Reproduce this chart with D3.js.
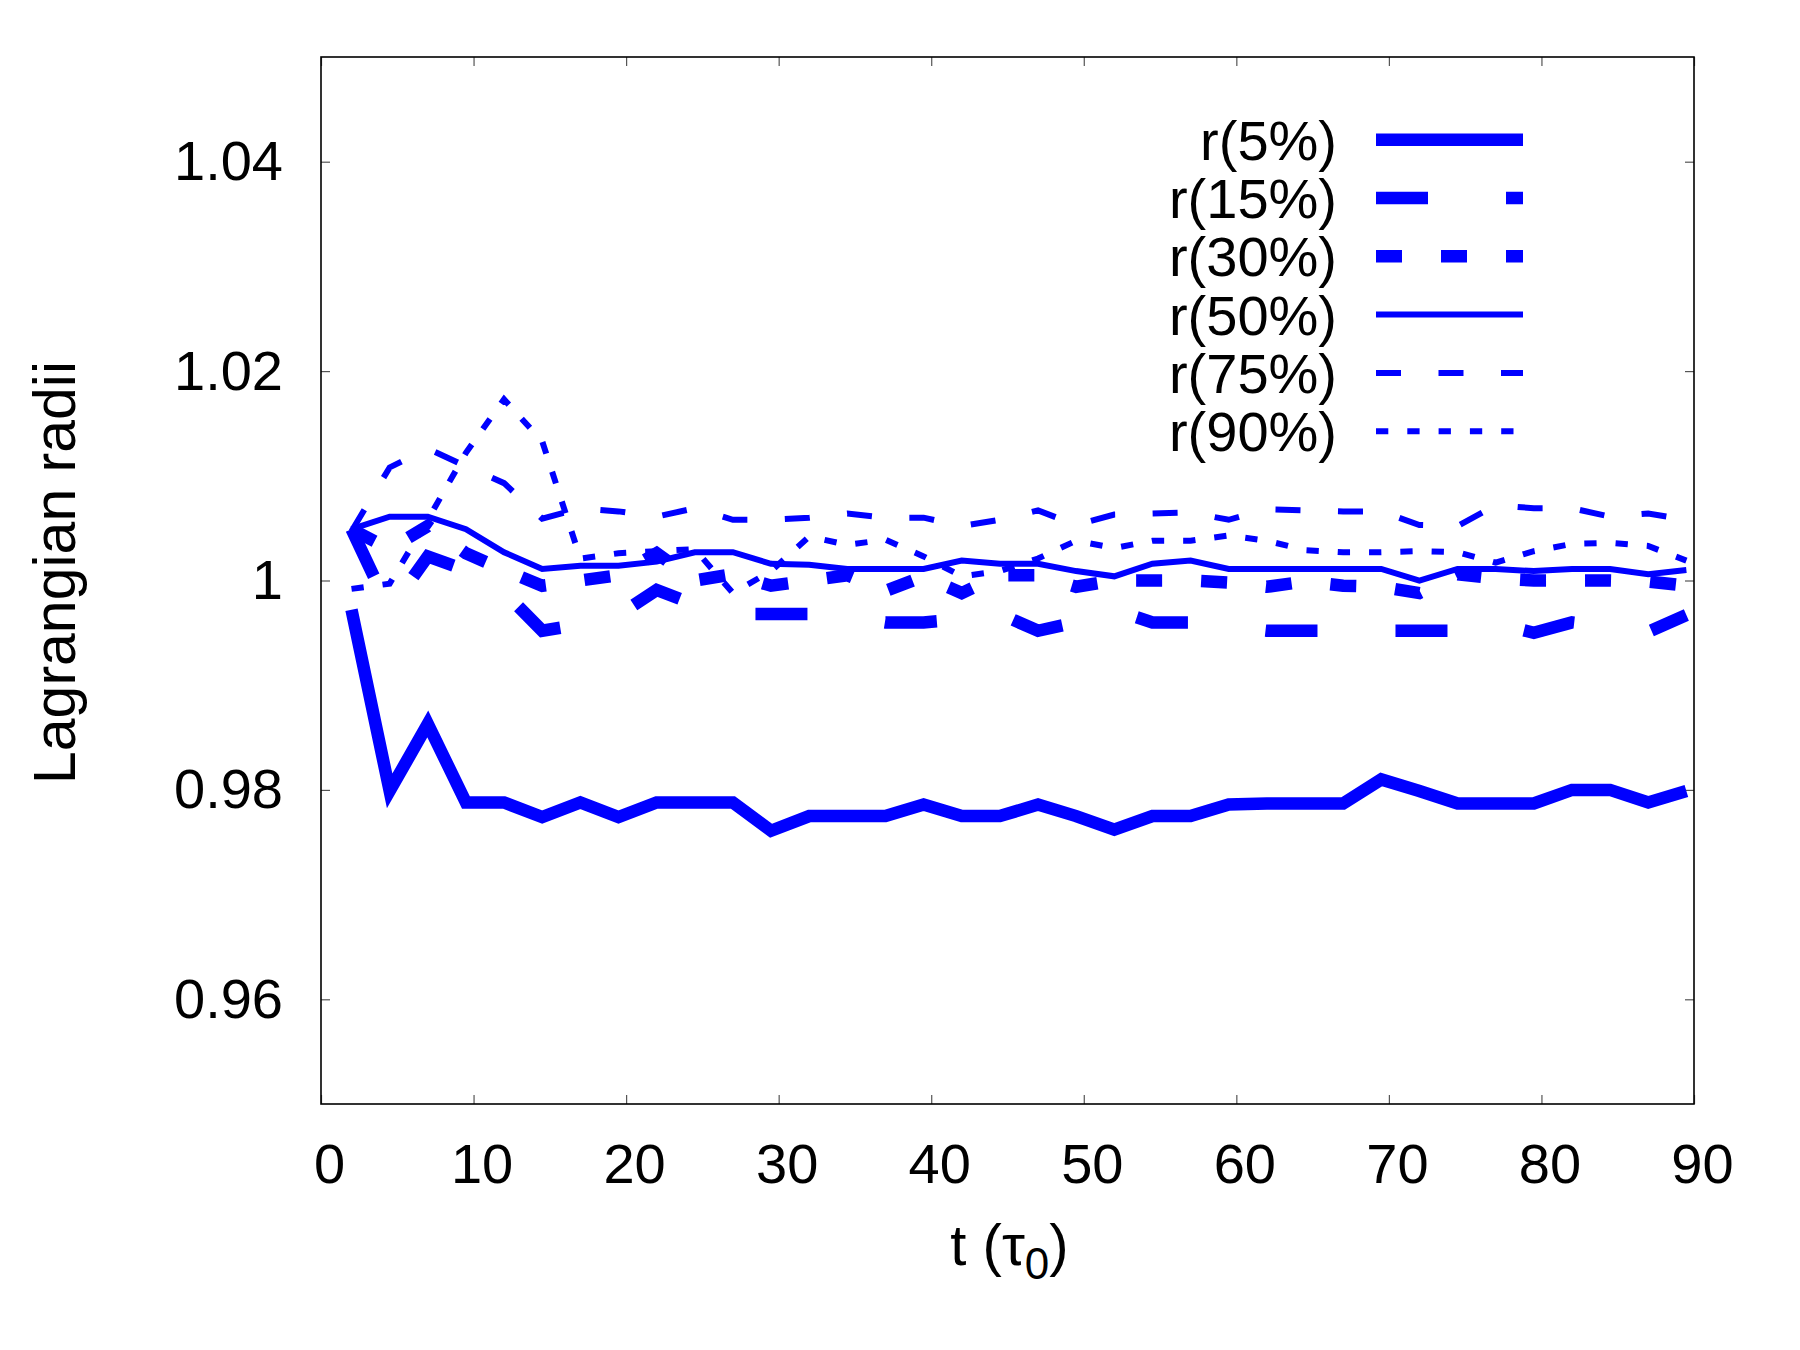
<!DOCTYPE html>
<html>
<head>
<meta charset="utf-8">
<script src="https://cdn.jsdelivr.net/npm/d3@7"></script>
<style>
  body { margin: 0; background: #fff; }
  svg text { font-family: "Liberation Sans", Arial, Helvetica, sans-serif; }
</style>
</head>
<body>
<svg id="chart" width="1800" height="1350"></svg>
<script>
// ---------------- data ----------------
const times = [2, 4.5, 7, 9.5, 12, 14.5, 17, 19.5, 22, 24.5, 27, 29.5, 32, 34.5, 37, 39.5, 42, 44.5,
               47, 49.5, 52, 54.5, 57, 59.5, 62, 64.5, 67, 69.5, 72, 74.5, 77, 79.5, 82, 84.5, 87, 89.5];

const seriesNames = ["r(5%)", "r(15%)", "r(30%)", "r(50%)", "r(75%)", "r(90%)"];

const r5 = [0.9972, 0.9799, 0.9863, 0.9788, 0.9788, 0.9774, 0.9788, 0.9774, 0.9788, 0.9788, 0.9788, 0.9761,
            0.9775, 0.9775, 0.9775, 0.9786, 0.9775, 0.9775, 0.9786, 0.9775, 0.9762, 0.9775, 0.9775, 0.9786,
            0.9787, 0.9787, 0.9787, 0.9810, 0.9799, 0.9787, 0.9787, 0.9787, 0.9800, 0.9800, 0.9788, 0.9799];

const r15 = [1.0049, 0.9972, 1.0023, 1.0010, 0.9989, 0.9952, 0.9958, 0.9967, 0.9991, 0.9977, 0.9968, 0.9968,
             0.9968, 0.9966, 0.9960, 0.9960, 0.9963, 0.9968, 0.9952, 0.9960, 0.9972, 0.9960, 0.9960, 0.9956,
             0.9952, 0.9952, 0.9952, 0.9952, 0.9952, 0.9952, 0.9959, 0.9950, 0.9960, 0.9956, 0.9951, 0.9967];

const r30 = [1.0049, 1.0030, 1.0052, 1.0026, 1.0010, 0.9995, 1.0000, 1.0005, 1.0026, 1.0000, 1.0006, 0.9995,
             1.0000, 1.0005, 0.9990, 1.0004, 0.9988, 1.0005, 1.0005, 0.9994, 1.0000, 1.0000, 1.0000, 0.9998,
             0.9994, 0.9999, 0.9995, 0.9994, 0.9988, 1.0006, 1.0002, 1.0000, 1.0000, 1.0000, 0.9999, 0.9995];

const r50 = [1.0049, 1.0061, 1.0061, 1.0049, 1.0027, 1.0011, 1.0014, 1.0014, 1.0018, 1.0027, 1.0027, 1.0016,
             1.0015, 1.0011, 1.0011, 1.0011, 1.0019, 1.0016, 1.0016, 1.0009, 1.0004, 1.0016, 1.0019, 1.0011,
             1.0011, 1.0011, 1.0011, 1.0011, 1.0000, 1.0011, 1.0011, 1.0009, 1.0011, 1.0011, 1.0006, 1.0010];

const r75 = [1.0047, 1.0108, 1.0126, 1.0109, 1.0093, 1.0059, 1.0069, 1.0066, 1.0061, 1.0069, 1.0058, 1.0058,
             1.0060, 1.0064, 1.0060, 1.0060, 1.0052, 1.0058, 1.0067, 1.0053, 1.0063, 1.0064, 1.0065, 1.0058,
             1.0068, 1.0067, 1.0066, 1.0066, 1.0053, 1.0052, 1.0072, 1.0069, 1.0069, 1.0061, 1.0064, 1.0058];

const r90 = [0.9992, 0.9997, 1.0058, 1.0122, 1.0173, 1.0133, 1.0021, 1.0026, 1.0028, 1.0030, 0.9988, 1.0009,
             1.0042, 1.0034, 1.0039, 1.0023, 1.0004, 1.0009, 1.0021, 1.0038, 1.0031, 1.0038, 1.0038, 1.0043,
             1.0038, 1.0029, 1.0027, 1.0027, 1.0028, 1.0027, 1.0017, 1.0028, 1.0035, 1.0036, 1.0033, 1.0019];

const xTickValues = [0, 10, 20, 30, 40, 50, 60, 70, 80, 90];
const xTickLabels = ["0", "10", "20", "30", "40", "50", "60", "70", "80", "90"];
const yTickValues = [0.96, 0.98, 1.00, 1.02, 1.04];
const yTickLabels = ["0.96", "0.98", "1", "1.02", "1.04"];

const xTitle = "t (";
const xTitleSymbol = "τ";
const xTitleSub = "0";
const yTitle = "Lagrangian radii";

// ---------------- layout / style ----------------
const W = 1800, H = 1350;
const plot = { left: 321, right: 1694, top: 57, bottom: 1104 };
const blue = "#0000ff";
const fontSize = 56;
const tickLen = 9;

const styles = [
  { width: 12.5, dash: null },
  { width: 12.5, dash: "52,78" },
  { width: 12.5, dash: "26,39" },
  { width: 6, dash: null },
  { width: 6, dash: "25,37.5" },
  { width: 6, dash: "12.3,19" }
];
const seriesValues = [r5, r15, r30, r50, r75, r90];

const x = d3.scaleLinear().domain([0, 90]).range([plot.left, plot.right]);
const y = d3.scaleLinear().domain([0.95, 1.05]).range([plot.bottom, plot.top]);

const svg = d3.select("#chart");
svg.append("rect").attr("width", W).attr("height", H).attr("fill", "#fff");

// ---------------- axes ----------------
function styleAxis(g) {
  g.attr("font-family", null).attr("font-size", null);
  g.select(".domain").remove();
  g.selectAll(".tick line").attr("stroke", "#555").attr("stroke-width", 1.2);
  g.selectAll(".tick text").attr("font-size", fontSize).attr("fill", "#000");
}

svg.append("g")
  .attr("transform", `translate(0,${plot.bottom})`)
  .call(d3.axisBottom(x).tickValues(xTickValues)
        .tickFormat((d, i) => xTickLabels[i]).tickSizeInner(-tickLen).tickSizeOuter(0).tickPadding(39))
  .call(styleAxis)
  .call(g => g.selectAll(".tick text").attr("dx", 8));

svg.append("g")
  .attr("transform", `translate(0,${plot.top})`)
  .call(d3.axisTop(x).tickValues(xTickValues).tickFormat("").tickSizeInner(-tickLen).tickSizeOuter(0))
  .call(styleAxis);

svg.append("g")
  .attr("transform", `translate(${plot.left},0)`)
  .call(d3.axisLeft(y).tickValues(yTickValues)
        .tickFormat((d, i) => yTickLabels[i]).tickSizeInner(-tickLen).tickSizeOuter(0).tickPadding(38))
  .call(styleAxis);

svg.append("g")
  .attr("transform", `translate(${plot.right},0)`)
  .call(d3.axisRight(y).tickValues(yTickValues).tickFormat("").tickSizeInner(-tickLen).tickSizeOuter(0))
  .call(styleAxis);

// ---------------- series ----------------
const line = d3.line()
  .x((d, i) => x(times[i]))
  .y(d => y(d));

const gLines = svg.append("g");
seriesValues.forEach((vals, s) => {
  const p = gLines.append("path")
    .datum(vals)
    .attr("d", line)
    .attr("fill", "none")
    .attr("stroke", blue)
    .attr("stroke-width", styles[s].width)
    .attr("stroke-linejoin", "miter")
    .attr("stroke-miterlimit", 10)
    .attr("stroke-linecap", "butt");
  if (styles[s].dash) p.attr("stroke-dasharray", styles[s].dash);
});

// ---------------- border ----------------
svg.append("rect")
  .attr("x", plot.left).attr("y", plot.top)
  .attr("width", plot.right - plot.left).attr("height", plot.bottom - plot.top)
  .attr("fill", "none").attr("stroke", "#000").attr("stroke-width", 1.6);

// ---------------- legend ----------------
const legendTextX = 1337, legendLineX1 = 1376, legendLineX2 = 1523;
const legendTop = 139.7, legendStep = 58.3;
const gLeg = svg.append("g");
seriesNames.forEach((name, s) => {
  const cy = legendTop + s * legendStep;
  gLeg.append("text")
    .attr("x", legendTextX).attr("y", cy + 20)
    .attr("text-anchor", "end")
    .attr("font-size", fontSize)
    .attr("fill", "#000")
    .text(name);
  const l = gLeg.append("line")
    .attr("x1", legendLineX1).attr("x2", legendLineX2)
    .attr("y1", cy).attr("y2", cy)
    .attr("stroke", blue)
    .attr("stroke-width", styles[s].width)
    .attr("stroke-linecap", "butt");
  if (styles[s].dash) l.attr("stroke-dasharray", styles[s].dash);
});

// ---------------- titles ----------------
const xt = svg.append("text")
  .attr("x", (plot.left + plot.right) / 2 + 2)
  .attr("y", 1265)
  .attr("text-anchor", "middle")
  .attr("font-size", 58)
  .attr("fill", "#000");
xt.append("tspan").text(xTitle);
xt.append("tspan").text(xTitleSymbol);
xt.append("tspan").attr("font-size", 44).attr("dy", 14).text(xTitleSub);
xt.append("tspan").attr("dy", -14).text(")");

svg.append("text")
  .attr("transform", `translate(75,${(plot.top + plot.bottom) / 2 - 8}) rotate(-90)`)
  .attr("text-anchor", "middle")
  .attr("font-size", 59)
  .attr("fill", "#000")
  .text(yTitle);
</script>
</body>
</html>
